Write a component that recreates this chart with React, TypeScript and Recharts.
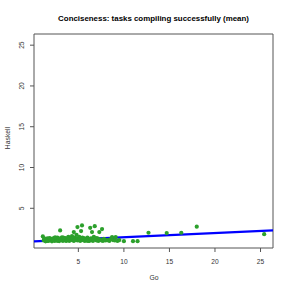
import { ReferenceArea, ReferenceLine, Scatter, ScatterChart, XAxis, YAxis } from "recharts";

// mean task compile success: Go (x) vs Haskell (y)
const goValues = [
  1.1, 1.2, 1.3, 1.4, 1.5, 1.6, 1.7, 1.8, 1.9, 2.0, 2.1, 2.2, 2.3, 2.4, 2.5, 2.6, 2.7, 2.8, 2.9, 3.0,
  3.0, 3.1, 3.2, 3.3, 3.4, 3.5, 3.6, 3.7, 3.8, 3.9, 4.0, 4.1, 4.2, 4.3, 4.4, 4.5, 4.5, 4.6, 4.7, 4.8,
  4.9, 4.9, 5.0, 5.1, 5.2, 5.3, 5.3, 5.4, 5.5, 5.6, 5.7, 5.8, 5.9, 6.0, 6.1, 6.2, 6.3, 6.4, 6.5, 6.5,
  6.6, 6.7, 6.8, 6.9, 7.0, 7.1, 7.2, 7.3, 7.4, 7.6, 7.7, 7.8, 8.0, 8.2, 8.4, 8.7, 8.8, 9.1, 9.3, 9.5,
  10.0, 11.0, 11.5, 12.7, 14.7, 16.3, 18.0, 25.4,
  1.25, 1.55, 1.85, 2.15, 2.45, 2.75, 3.05, 3.35, 3.65, 3.95, 4.25, 4.55, 4.85, 5.15, 5.45, 5.75,
  6.05, 6.35, 6.65, 6.95, 7.25, 7.55, 7.9, 8.5, 9.0,
];
const haskellValues = [
  1.55, 1.05, 1.2, 0.95, 1.1, 1.3, 1.0, 1.15, 1.05, 1.25, 0.95, 1.1, 1.35, 1.0, 1.2, 1.05, 1.4, 1.15, 0.98, 1.3,
  2.29, 1.1, 1.45, 1.0, 1.25, 1.15, 1.35, 1.05, 1.2, 1.5, 1.0, 1.3, 1.1, 1.6, 1.2, 2.08, 1.0, 1.4, 1.15, 1.75,
  2.7, 1.05, 1.3, 1.5, 1.0, 2.2, 1.2, 2.9, 1.1, 1.35, 1.0, 1.25, 1.05, 1.4, 1.15, 1.0, 2.6, 1.3, 2.08, 1.1,
  1.0, 1.5, 2.8, 1.2, 1.05, 1.3, 1.0, 2.08, 1.15, 2.45, 1.0, 1.25, 1.05, 1.1, 1.0, 1.47, 1.1, 1.47, 1.0, 1.1,
  0.97, 0.97, 0.97, 2.0, 1.96, 2.0, 2.75, 1.83,
  1.3, 1.0, 1.35, 1.2, 1.45, 1.0, 1.15, 1.4, 1.0, 1.2, 1.35, 1.1, 1.25, 1.15, 1.4, 1.2,
  1.0, 1.25, 1.15, 1.35, 1.2, 1.05, 1.15, 1.2, 1.05,
];
const points = goValues.map((go, i) => ({ go, haskell: haskellValues[i] }));

// least squares line, endpoints
const fitGo = [0.13, 26.37];
const fitHaskell = [0.94, 2.29];

const axisRange = [0.13, 26.37];
const ticks = [5, 10, 15, 20, 25];

const FONT = "'Liberation Sans', Arial, sans-serif";
const TEXT = "#333";

const XTick = ({ x, y, payload }: any) => (
  <text x={x} y={y + 9.5} textAnchor="middle" fontSize={6.6} fontFamily={FONT} fill={TEXT}>
    {payload.value}
  </text>
);

const YTick = ({ x, y, payload }: any) => (
  <text
    x={x - 4}
    y={y}
    transform={`rotate(-90 ${x - 4} ${y})`}
    textAnchor="middle"
    fontSize={6.6}
    fontFamily={FONT}
    fill={TEXT}
  >
    {payload.value}
  </text>
);

const Dot = ({ cx, cy }: any) => <circle cx={cx} cy={cy} r={2.1} fill="#2ca02c" />;

export default function App() {
  return (
    <div style={{ position: "absolute", left: 0, top: 0, background: "#fff" }}>
      <ScatterChart width={291} height={291} margin={{ top: 34, right: 18, bottom: 0, left: 0 }}>
        <XAxis
          type="number"
          dataKey="go"
          domain={axisRange}
          ticks={ticks}
          height={43}
          axisLine={false}
          tickLine={{ stroke: "#555" }}
          tickSize={4}
          tick={<XTick />}
          allowDataOverflow
        />
        <YAxis
          type="number"
          dataKey="haskell"
          domain={axisRange}
          ticks={ticks}
          width={34}
          axisLine={false}
          tickLine={{ stroke: "#555" }}
          tickSize={4}
          tick={<YTick />}
          allowDataOverflow
        />
        <ReferenceArea
          x1={axisRange[0]}
          x2={axisRange[1]}
          y1={axisRange[0]}
          y2={axisRange[1]}
          fill="none"
          stroke="#555"
          strokeWidth={1}
        />
        <Scatter data={points} shape={<Dot />} isAnimationActive={false} />
        <ReferenceLine
          segment={[
            { x: fitGo[0], y: fitHaskell[0] },
            { x: fitGo[1], y: fitHaskell[1] },
          ]}
          stroke="#0000ff"
          strokeWidth={2.2}
        />
        <text x={153.5} y={20.8} textAnchor="middle" fontSize={7.9} fontWeight="bold" fontFamily={FONT} fill="#000">
          Conciseness: tasks compiling successfully (mean)
        </text>
        <text x={154} y={279.5} textAnchor="middle" fontSize={6.8} fontFamily={FONT} fill={TEXT}>
          Go
        </text>
        <text
          x={9.5}
          y={138}
          transform="rotate(-90 9.5 138)"
          textAnchor="middle"
          fontSize={6.8}
          fontFamily={FONT}
          fill={TEXT}
        >
          Haskell
        </text>
      </ScatterChart>
    </div>
  );
}
